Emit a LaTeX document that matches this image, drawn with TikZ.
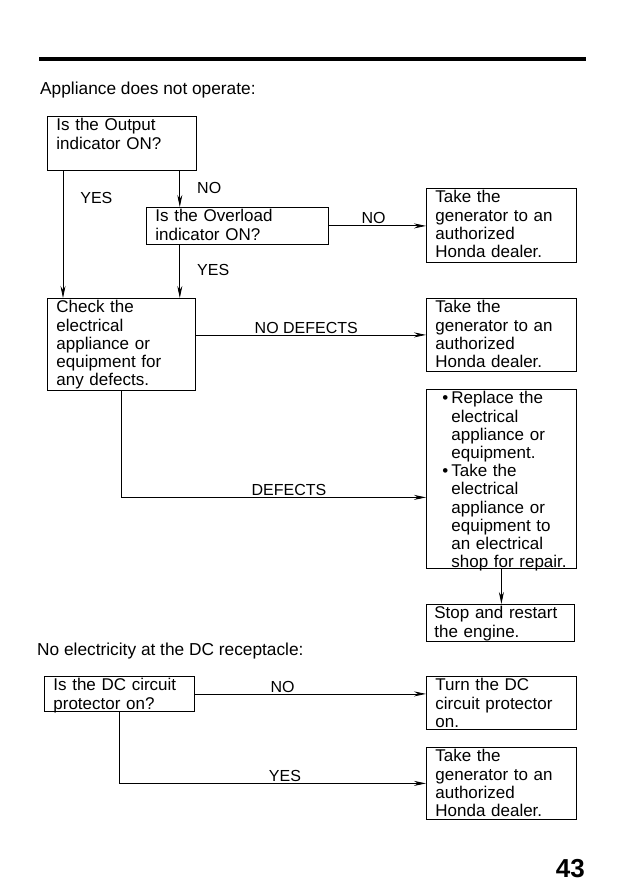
\documentclass[tikz,border=0pt]{standalone}
\usepackage{fontspec}
\setmainfont{Liberation Sans}
\usetikzlibrary{arrows.meta}

\tikzset{
	stepbox/.style={draw, line width=0.8pt, anchor=north west, align=left,
		inner xsep=9pt, inner ysep=2.5pt, text height=12pt,
		font=\fontsize{17}{18.2}\selectfont},
	flow/.style={line width=0.8pt, -{Stealth[length=12pt, width=5pt]}},
	answer/.style={font=\fontsize{16}{18}\selectfont, inner sep=1.5pt, text depth=0pt},
	heading/.style={anchor=base west, inner sep=0pt, font=\fontsize{17.3}{18}\selectfont}
}

\begin{document}
\begin{tikzpicture}[x=1pt, y=-1pt]
	\useasboundingbox (0,0) rectangle (638,893);

	\draw
		[line width=4pt] (39,59.5) -- (586,59.5);

	\node [heading] (title1) at (40,95) {Appliance does not operate:};

	\node [stepbox, text width=131pt, text depth=37pt] (output) at (47,116)
		{Is the Output\\indicator ON?};

	\node [stepbox, text width=164pt, text depth=20pt] (overload) at (146,207)
		{Is the Overload\\indicator ON?};

	\node [stepbox, text width=130pt, text depth=75pt] (check) at (47,298)
		{Check the\\electrical\\appliance or\\equipment for\\any defects.};

	\node [stepbox, text width=132pt, text depth=57pt] (dealer1) at (426,188)
		{Take the\\generator to an\\authorized\\Honda dealer.};

	\node [stepbox, text width=132pt, text depth=56pt] (dealer2) at (426,298)
		{Take the\\generator to an\\authorized\\Honda dealer.};

	\node [stepbox, text width=132pt, text depth=162pt] (replace) at (426,389)
		{\leftskip=16pt\relax
		\leavevmode\llap{\textbullet\hspace{3pt}}Replace the\\electrical\\appliance or\\equipment.\\
		\leavevmode\llap{\textbullet\hspace{3pt}}Take the\\electrical\\appliance or\\equipment to\\an electrical\\shop for repair.\par};

	\node [stepbox, text width=132pt, text depth=20pt, inner xsep=8pt] (restart) at (426,604)
		{Stop and restart\\the engine.};

	% YES / NO branches of the first chart
	\draw
		[flow] ([xshift=16pt]output.south west) -- ([xshift=16pt]output.south west |- check.north)
		node [answer, pos=0.21, anchor=west, xshift=15.5pt] (yes1) {YES};

	\draw
		[flow] ([xshift=-17pt]output.south east) -- ([xshift=-17pt]output.south east |- overload.north)
		node [answer, pos=0.46, anchor=west, xshift=15.5pt] (no1) {NO};

	\draw
		[flow] ([xshift=-17pt]output.south east |- overload.south) -- ([xshift=-17pt]output.south east |- check.north)
		node [answer, pos=0.48, anchor=west, xshift=15.5pt] (yes2) {YES};

	\draw
		[flow] (overload.east) -- (overload.east -| dealer1.west)
		node [answer, pos=0.46, anchor=south] (no2) {NO};

	\draw
		[flow] (check.east |- dealer2.west) -- (dealer2.west)
		node [answer, pos=0.48, anchor=south] (nodefects) {NO DEFECTS};

	\draw
		[flow] (check.south) |- ([yshift=-18.5pt]replace.west)
		node [answer, pos=0.775, anchor=south] (defects) {DEFECTS};

	\draw
		[flow] (replace.south) -- (replace.south |- restart.north);

	% second chart
	\node [heading] (title2) at (37,655) {No electricity at the DC receptacle:};

	\node [stepbox, text width=132pt, text depth=18pt] (dccheck) at (44,676)
		{Is the DC circuit\\protector on?};

	\node [stepbox, text width=132pt, text depth=36pt] (turnon) at (426,676)
		{Turn the DC\\circuit protector\\on.};

	\node [stepbox, text width=132pt, text depth=55pt] (dealer3) at (426,747)
		{Take the\\generator to an\\authorized\\Honda dealer.};

	\draw
		[flow] (dccheck.east) -- (dccheck.east -| turnon.west)
		node [answer, pos=0.38, anchor=south] (no3) {NO};

	\draw
		[flow] (dccheck.south) |- (dealer3.west)
		node [answer, pos=0.77, anchor=south] (yes3) {YES};

	\node [anchor=base east, inner sep=0pt, font=\bfseries\fontsize{26}{26}\selectfont] (pagenum) at (585,877) {43};
\end{tikzpicture}
\end{document}
